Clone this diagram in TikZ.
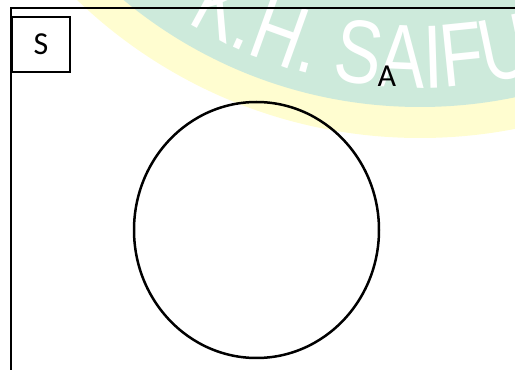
\documentclass[tikz,border=0pt]{standalone}
\usepackage{fontspec}
\setmainfont{Carlito}
\newfontfamily\wmfont[FakeStretch=0.78]{Liberation Sans}
\usetikzlibrary{decorations.text}
\definecolor{wmgreen}{RGB}{205,234,219}
\definecolor{wmyellow}{RGB}{255,253,208}

\begin{document}
\begin{tikzpicture}[x=1pt, y=1pt, line/.style={line width=2.5pt}, font=\fontsize{32}{36}\selectfont]
    \useasboundingbox (0,0) rectangle (515,370);
    \clip (0,0) rectangle (515,370);

    % Watermark in the background
    \fill[wmyellow] (420,727) circle[radius=495];
    \fill[wmgreen] (420,727) circle[radius=464];
    \path[decorate, decoration={text along path, text color=white,
        text={|\wmfont\fontsize{90}{90}\selectfont|K.H. SAIFUDDIN ZUHRI}}]
        ([shift={(420,727)}]238.4:445) arc[start angle=238.4, end angle=330, radius=445];

    % Universe S
    \draw[line] (530,362) -- (11,362) -- (11,-10);
    \node[draw, line, minimum width=58, minimum height=55, inner sep=0] (s) at (41,325.5) {S};

    % Set A
    \node (a) at (387,294) {A};
    \draw[line] (256.5,140) ellipse[x radius=122.5, y radius=128];
\end{tikzpicture}
\end{document}
